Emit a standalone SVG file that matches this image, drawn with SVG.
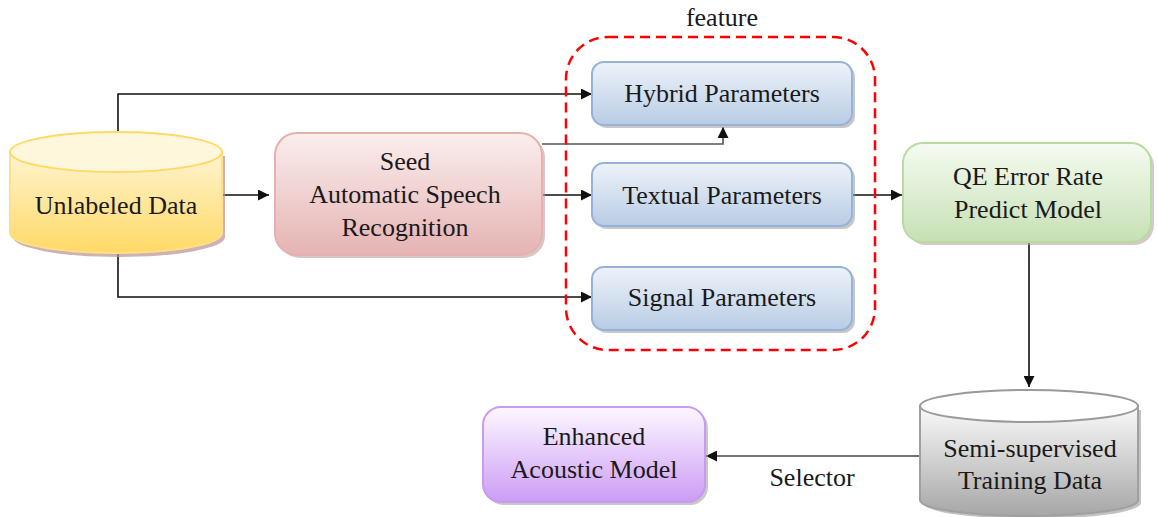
<svg xmlns="http://www.w3.org/2000/svg" width="1157" height="517" viewBox="0 0 1157 517">
<style>
  text { font-family: 'Liberation Serif', 'Times New Roman', serif; font-size: 26px; fill: #1a1a1a; text-anchor: middle; }
  .conn { fill: none; stroke: #111; stroke-width: 1.6; }
  .param { fill: url(#gBlue); stroke: #95b3d7; stroke-width: 2; }
  .shadow { fill: #9a9a9a; opacity: 0.55; }
</style>
<defs>
  <marker id="arr" viewBox="0 0 10 10" refX="10" refY="5" markerWidth="11" markerHeight="11" markerUnits="userSpaceOnUse" orient="auto">
    <path d="M0,0 L10,5 L0,10 Z" fill="#111"/>
  </marker>
  <linearGradient id="gBlue" x1="0" y1="0" x2="0" y2="1">
    <stop offset="0" stop-color="#eef3fa"/>
    <stop offset="1" stop-color="#b8cce4"/>
  </linearGradient>
  <linearGradient id="gRed" x1="0" y1="0" x2="0" y2="1">
    <stop offset="0" stop-color="#fbeeee"/>
    <stop offset="1" stop-color="#e6b3b3"/>
  </linearGradient>
  <linearGradient id="gGreen" x1="0" y1="0" x2="0" y2="1">
    <stop offset="0" stop-color="#f6fbf2"/>
    <stop offset="1" stop-color="#c6e0b4"/>
  </linearGradient>
  <linearGradient id="gPurple" x1="0" y1="0" x2="0" y2="1">
    <stop offset="0" stop-color="#fcf8ff"/>
    <stop offset="1" stop-color="#cc9cf5"/>
  </linearGradient>
  <linearGradient id="gYellow" x1="0" y1="0" x2="0" y2="1">
    <stop offset="0" stop-color="#fff4d0"/>
    <stop offset="1" stop-color="#ffd966"/>
  </linearGradient>
  <linearGradient id="gGray" x1="0" y1="0" x2="0" y2="1">
    <stop offset="0" stop-color="#fafafa"/>
    <stop offset="1" stop-color="#a6a6a6"/>
  </linearGradient>
</defs>

<g id="connectors">
  <polyline class="conn" points="118,131 118,94 592,94" marker-end="url(#arr)"/>
  <polyline class="conn" points="118,253 118,297 592,297" marker-end="url(#arr)"/>
  <line class="conn" x1="223" y1="195" x2="269" y2="195" marker-end="url(#arr)"/>
  <polyline class="conn" points="542,144 723,144 723,127" marker-end="url(#arr)" style="stroke:#555"/>
  <line class="conn" x1="542" y1="195" x2="592" y2="195" marker-end="url(#arr)"/>
  <line class="conn" x1="852" y1="195" x2="902" y2="195" marker-end="url(#arr)"/>
  <line class="conn" x1="1029" y1="243" x2="1029" y2="387" marker-end="url(#arr)"/>
  <line class="conn" x1="920" y1="456" x2="706" y2="456" marker-end="url(#arr)" style="stroke:#444"/>
  <text x="812" y="486">Selector</text>
</g>

<g id="feature-group">
  <rect x="566" y="37" width="309" height="313" rx="42" fill="none" stroke="#ff0000" stroke-width="2.5" stroke-dasharray="10,6"/>
  <text x="722" y="26">feature</text>
</g>

<g id="unlabeled-data">
  <path d="M13,156 L13,237 A106,20 0 0 0 225,237 L225,156 Z" fill="#b99090" opacity="0.7"/>
  <path d="M10,152 L10,233 A106,20 0 0 0 222,233 L222,152 Z" fill="url(#gYellow)" stroke="#ffe08a" stroke-width="2"/>
  <ellipse cx="116" cy="152" rx="106" ry="20" fill="#fff7dc" stroke="#ffd966" stroke-width="2"/>
  <text x="116" y="214">Unlabeled Data</text>
</g>

<g id="seed-asr">
  <rect x="278" y="136" width="267" height="122" rx="22" fill="#c0a0a0" opacity="0.6"/>
  <rect x="275" y="133" width="267" height="122" rx="22" fill="url(#gRed)" stroke="#e6b0b0" stroke-width="2"/>
  <text x="405" y="170">Seed</text>
  <text x="405" y="203">Automatic Speech</text>
  <text x="405" y="236">Recognition</text>
</g>

<g id="hybrid">
  <rect class="shadow" x="595" y="65" width="260" height="63" rx="12"/>
  <rect class="param" x="592" y="62" width="260" height="63" rx="12"/>
  <text x="722" y="102">Hybrid Parameters</text>
</g>

<g id="textual">
  <rect class="shadow" x="595" y="166" width="260" height="63" rx="12"/>
  <rect class="param" x="592" y="163" width="260" height="63" rx="12"/>
  <text x="722" y="204">Textual Parameters</text>
</g>

<g id="signal">
  <rect class="shadow" x="595" y="270" width="260" height="63" rx="12"/>
  <rect class="param" x="592" y="267" width="260" height="63" rx="12"/>
  <text x="722" y="306">Signal Parameters</text>
</g>

<g id="qe-model">
  <rect x="906" y="146" width="248" height="99" rx="20" fill="#c0a0a0" opacity="0.6"/>
  <rect x="903" y="143" width="248" height="99" rx="20" fill="url(#gGreen)" stroke="#b7dba0" stroke-width="2"/>
  <text x="1028" y="185">QE Error Rate</text>
  <text x="1028" y="218">Predict Model</text>
</g>

<g id="semi-supervised">
  <path d="M923,410 L923,503 A109,16 0 0 0 1141,503 L1141,410 Z" fill="#999" opacity="0.6"/>
  <path d="M920,406 L920,500 A109,16 0 0 0 1138,500 L1138,406 Z" fill="url(#gGray)" stroke="#a0a0a0" stroke-width="2"/>
  <ellipse cx="1029" cy="406" rx="109" ry="16" fill="#ffffff" stroke="#9a9a9a" stroke-width="2"/>
  <text x="1030" y="457">Semi-supervised</text>
  <text x="1030" y="489">Training Data</text>
</g>

<g id="enhanced-model">
  <rect class="shadow" x="486" y="410" width="222" height="95" rx="18"/>
  <rect x="483" y="407" width="222" height="95" rx="18" fill="url(#gPurple)" stroke="#c89af0" stroke-width="2"/>
  <text x="594" y="445">Enhanced</text>
  <text x="594" y="478">Acoustic Model</text>
</g>
</svg>
